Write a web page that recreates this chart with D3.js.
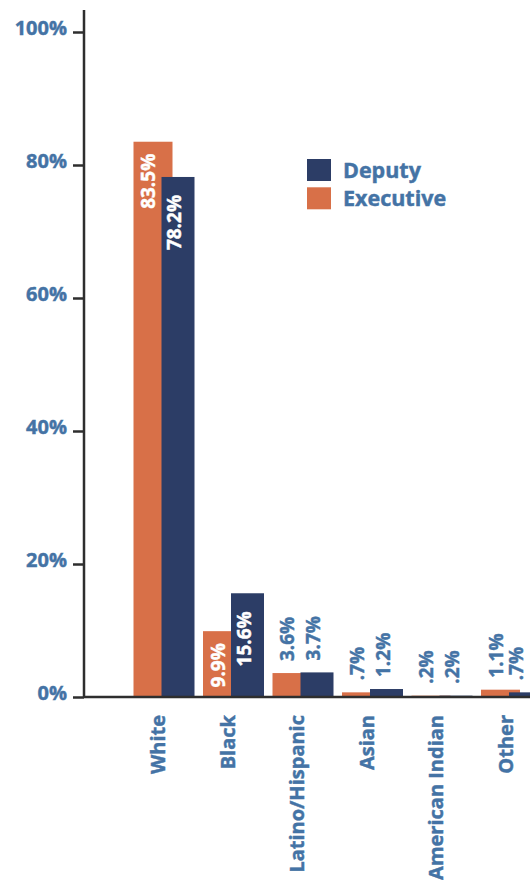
<!DOCTYPE html>
<html>
<head>
<meta charset="utf-8">
<script src="https://cdn.jsdelivr.net/npm/d3@7"></script>
<style>
  html, body { margin: 0; padding: 0; background: #ffffff; }
  svg { display: block; }
  text { font-family: "Open Sans", "DejaVu Sans", sans-serif; font-weight: 700; }
</style>
</head>
<body>
<svg id="chart" width="530" height="880"></svg>
<script>
// Share of executives and deputies by race/ethnicity
const categories = ["White", "Black", "Latino/Hispanic", "Asian", "American Indian", "Other"];
const executive = [83.5, 9.9, 3.6, 0.7, 0.2, 1.1];
const deputy = [78.2, 15.6, 3.7, 1.2, 0.2, 0.7];
const executiveLabels = ["83.5%", "9.9%", "3.6%", ".7%", ".2%", "1.1%"];
const deputyLabels = ["78.2%", "15.6%", "3.7%", "1.2%", ".2%", ".7%"];
const yTicks = [0, 20, 40, 60, 80, 100];
const seriesNames = ["Deputy", "Executive"];

const colors = { Executive: "#d87048", Deputy: "#2c3d66" };
const textBlue = "#4473a5";
const axisColor = "#2e2e2e";

const svg = d3.select("#chart");
const W = 530;

const y = d3.scaleLinear().domain([0, 100]).range([697, 32]);
const x = d3.scaleBand().domain(categories).range([133.5, 133.5 + 6 * 69.5]).padding(0);

const execW = 39, depOff = 28, depW = 33;
const execLabelX = 15, depLabelX = 41;

// slightly heavier lettering
function heavy(sel, color) {
  sel.attr("stroke", color).attr("stroke-width", 0.45).attr("paint-order", "stroke");
}

// bars: executive first, deputy overlapping on top
const groups = svg.append("g").selectAll("g")
  .data(categories.map((c, i) => ({ c, i })))
  .join("g");

groups.append("rect")
  .attr("x", d => x(d.c))
  .attr("y", d => y(executive[d.i]))
  .attr("width", execW)
  .attr("height", d => y(0) - y(executive[d.i]))
  .attr("fill", colors.Executive);

groups.append("rect")
  .attr("x", d => x(d.c) + depOff)
  .attr("y", d => y(deputy[d.i]))
  .attr("width", depW)
  .attr("height", d => y(0) - y(deputy[d.i]))
  .attr("fill", colors.Deputy);

// value labels: inside tall bars, above short ones
const insideMin = 8;
function valueLabel(values, labels, dx, insideOffset) {
  const t = svg.append("g").selectAll("text")
    .data(categories.map((c, i) => ({ c, v: values[i], t: labels[i] })))
    .join("text")
    .attr("transform", d => {
      const px = Math.min(x(d.c) + dx, W - 14);
      const inside = d.v >= insideMin;
      const py = inside ? y(d.v) + insideOffset : y(d.v) - 12;
      return `translate(${px},${py}) rotate(-90)`;
    })
    .attr("text-anchor", d => d.v >= insideMin ? "end" : "start")
    .attr("dy", "0.36em")
    .attr("font-size", 19)
    .attr("fill", d => d.v >= insideMin ? "#ffffff" : textBlue)
    .text(d => d.t);
  t.attr("stroke", d => d.v >= insideMin ? "#ffffff" : textBlue)
    .attr("stroke-width", 0.45);
}
valueLabel(executive, executiveLabels, execLabelX, 12);
valueLabel(deputy, deputyLabels, depLabelX, 18);

// y axis
const yAxis = d3.axisLeft(y)
  .tickValues(yTicks)
  .tickSize(11)
  .tickPadding(6)
  .tickFormat(d => d + "%");

const gy = svg.append("g").attr("transform", "translate(84,0)").call(yAxis);
gy.select(".domain").remove();
gy.selectAll(".tick line").attr("stroke", axisColor).attr("stroke-width", 2.5);
const tickText = gy.selectAll(".tick text")
  .attr("fill", textBlue)
  .attr("font-size", 20)
  .attr("font-family", "'Open Sans', sans-serif")
  .attr("font-weight", 700)
  .attr("y", -4);
heavy(tickText, textBlue);

svg.append("line")
  .attr("x1", 84).attr("x2", 84)
  .attr("y1", 10).attr("y2", y(0) + 1)
  .attr("stroke", axisColor).attr("stroke-width", 2.5);

// baseline
svg.append("line")
  .attr("x1", 84).attr("x2", W)
  .attr("y1", y(0)).attr("y2", y(0))
  .attr("stroke", axisColor).attr("stroke-width", 2.5);

// category labels
const catText = svg.append("g").selectAll("text")
  .data(categories)
  .join("text")
  .attr("transform", d => `translate(${x(d) + 24.5},715) rotate(-90)`)
  .attr("text-anchor", "end")
  .attr("dy", "0.36em")
  .attr("font-size", 20)
  .attr("fill", textBlue)
  .text(d => d);
heavy(catText, textBlue);

// legend
const legend = svg.append("g").selectAll("g")
  .data(seriesNames)
  .join("g")
  .attr("transform", (d, i) => `translate(307,${159 + i * 28.3})`);
legend.append("rect")
  .attr("width", 24).attr("height", 22)
  .attr("fill", d => colors[d]);
const legText = legend.append("text")
  .attr("x", 36).attr("y", 19)
  .attr("font-size", 21.5)
  .attr("fill", textBlue)
  .text(d => d);
heavy(legText, textBlue);
</script>
</body>
</html>
